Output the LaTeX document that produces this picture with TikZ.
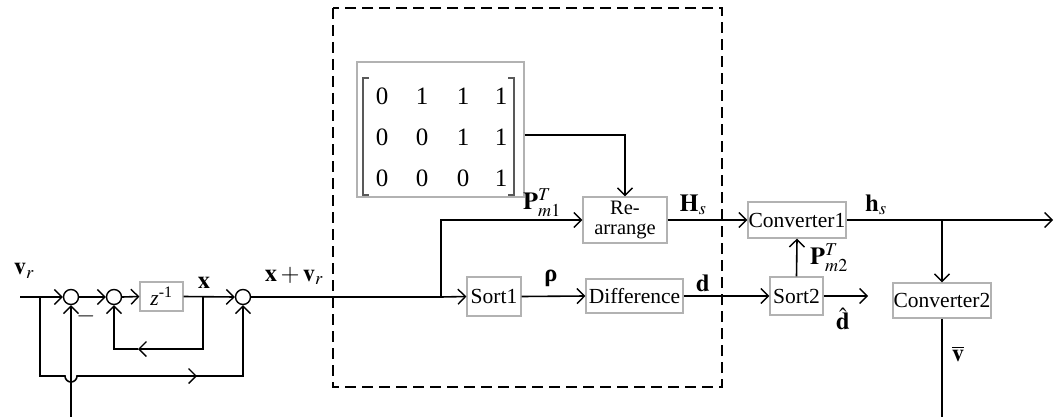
\documentclass[tikz,border=0pt]{standalone}
\usepackage{amsmath}
\usepackage{mathptmx}
\usepackage[no-math]{fontspec}
\setmainfont{Liberation Serif}
\usetikzlibrary{arrows.meta}

\begin{document}
\begin{tikzpicture}[x=1pt,y=-1pt,
  wire/.style={line width=1.6pt},
  arr/.style={wire,-{Straight Barb[length=7.5pt,width=15pt,line width=1.4pt]}},
  blk/.style={draw=gray!60, line width=1.1pt, inner sep=0pt, align=center,
    font=\fontsize{21.5}{21.5}\selectfont},
  sumc/.style={circle, draw, line width=1.4pt, minimum size=15pt, inner sep=0pt},
  lbl/.style={inner sep=0pt, font=\fontsize{24.5}{25}\selectfont},
  digit/.style={inner sep=0pt, font=\fontsize{25}{25}\selectfont}]
\useasboundingbox (0,0) rectangle (1056,417);

% dashed frame around the sorting stage
\draw[line width=1.4pt, dash pattern=on 11pt off 6pt] (333,8) rectangle (722,387);

% blocks
\node[blk, minimum width=43pt, minimum height=29pt] (z) at (161.5,296.5) {\textit{z}\textsuperscript{-1}};
\node[blk, minimum width=167pt, minimum height=135pt] (mat) at (440.5,129.5) {};
\node[blk, minimum width=84pt, minimum height=46pt, font=\fontsize{20.5}{19.5}\selectfont] (rearr) at (625,220) {Re-\\arrange};
\node[blk, minimum width=54pt, minimum height=39pt] (sort1) at (494,296.5) {Sort1};
\node[blk, minimum width=97pt, minimum height=34pt] (diff) at (634.5,296) {Difference};
\node[blk, minimum width=98pt, minimum height=36pt] (conv1) at (797,220) {Converter1};
\node[blk, minimum width=53pt, minimum height=38pt] (sort2) at (796.5,296) {Sort2};
\node[blk, minimum width=98pt, minimum height=35pt] (conv2) at (942,300.5) {Converter2};

% matrix entries and brackets
\foreach \r/\yy in {1/96,2/137,3/178}{
  \foreach \c/\xx in {1/382,2/422,3/463,4/501}{
    \coordinate (m\r\c) at (\xx,\yy);
  }
}
\node[digit] at (m11) {0}; \node[digit] at (m12) {1}; \node[digit] at (m13) {1}; \node[digit] at (m14) {1};
\node[digit] at (m21) {0}; \node[digit] at (m22) {0}; \node[digit] at (m23) {1}; \node[digit] at (m24) {1};
\node[digit] at (m31) {0}; \node[digit] at (m32) {0}; \node[digit] at (m33) {0}; \node[digit] at (m34) {1};
\draw[line width=1.1pt, gray!70!black] (369,78) -- (363,78) -- (363,195) -- (369,195);
\draw[line width=1.1pt, gray!70!black] (508,78) -- (514,78) -- (514,195) -- (508,195);

% summing junctions
\node[sumc] (s1) at (71,297) {};
\node[sumc] (s2) at (114,297) {};
\node[sumc] (s3) at (243,297) {};

% named points for branches and free ends
\coordinate (in) at (20,297);
\coordinate (b1) at (40,297);
\coordinate (bx) at (203,297);
\coordinate (fb1) at (203,349);
\coordinate (fbm) at (138,349);
\coordinate (fb2) at (114,349);
\coordinate (lo1) at (40,376);
\coordinate (hopA) at (65,376);
\coordinate (hopB) at (77,376);
\coordinate (lom) at (197,376);
\coordinate (lo2) at (243,376);
\coordinate (bot1) at (71,417);
\coordinate (bs) at (441,297);
\coordinate (dout) at (868,296);
\coordinate (hout) at (1053,220);
\coordinate (bh) at (942,220);
\coordinate (vout) at (942,417);

% forward path
\draw[arr] (in) -- (s1.west);
\draw[arr] (s1.east) -- (s2.west);
\draw[arr] (s2.east) -- (z.west);
\draw[arr] (z.east) -- (s3.west);
\draw[wire] (s3.east) -- (bs);
\draw[arr] (bs) -- (sort1.west);
\draw[arr] (bs) |- (rearr.west);
\draw[arr] ([yshift=-5.5pt]mat.east) -| (rearr.north);
\draw[arr] (sort1.east) -- (diff.west);
\draw[arr] (diff.east) -- (sort2.west);
\draw[arr] (rearr.east) -- (conv1.west);
\draw[arr] (sort2.north) -- (conv1.south);
\draw[arr] (sort2.east) -- (dout);
\draw[arr] (conv1.east) -- (hout);
\draw[arr] (bh) -- (conv2.north);
\draw[wire] (conv2.south) -- (vout);

% feedback around the delay
\draw[arr] (bx) -- (fb1) -- (fbm);
\draw[arr] (fbm) -- (fb2) -- (s2.south);

% bypass of v_r with a hop over the lower input
\draw[wire] (b1) -- (lo1) -- (hopA) arc[start angle=180, end angle=360, radius=6pt] -- (lom);
\draw[arr] (hopB) -- (lom);
\draw[arr] (lom) -- (lo2) -- (s3.south);
\draw[arr] (bot1) -- (s1.south);

% signal labels
\node[lbl] at (24,271) {$\mathbf{v}_{r}$};
\node[lbl] at (86,316) {$-$};
\node[lbl] at (204,283) {$\mathbf{x}$};
\node[lbl] at (294,276) {$\mathbf{x}+\mathbf{v}_{r}$};
\node[lbl] at (542,203) {$\mathbf{P}_{m1}^{T}$};
\node[lbl] at (693,205) {$\mathbf{H}_{s}$};
\node[lbl] at (551,278) {\bfseries ρ};
\node[lbl] at (703,283) {$\mathbf{d}$};
\node[lbl] at (876,205) {$\mathbf{h}_{s}$};
\node[lbl] at (829,258) {$\mathbf{P}_{m2}^{T}$};
\node[lbl] at (843,319) {$\hat{\mathbf{d}}$};
\node[lbl] at (958,354) {$\overline{\mathbf{v}}$};
\end{tikzpicture}
\end{document}
